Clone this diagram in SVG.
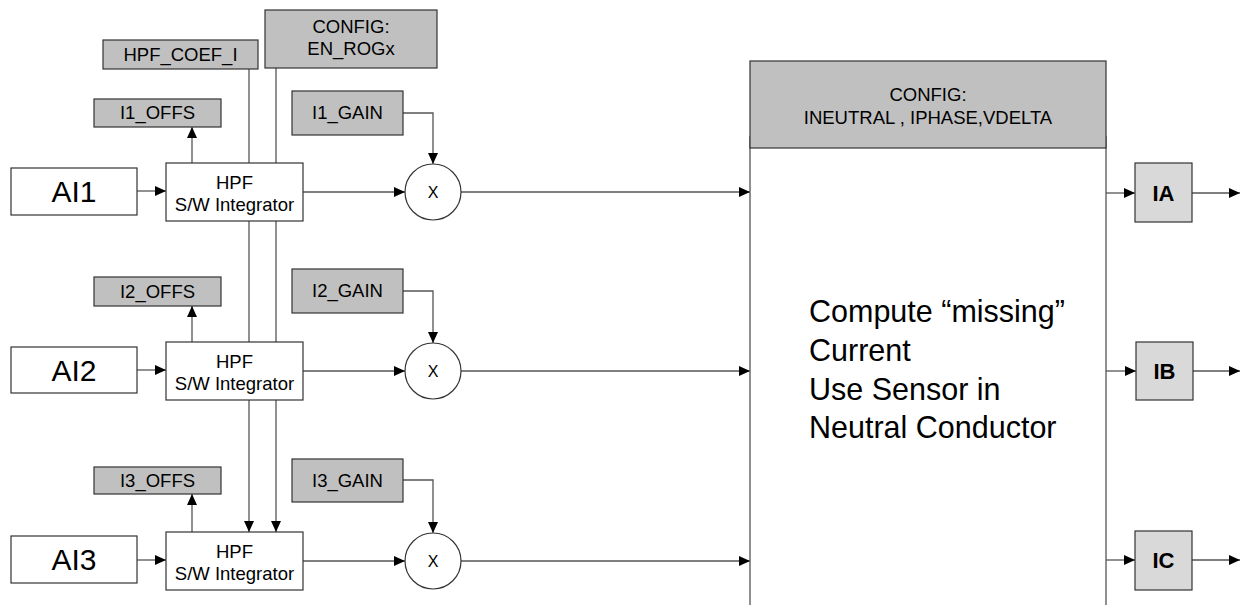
<svg xmlns="http://www.w3.org/2000/svg" width="1243" height="605" viewBox="0 0 1243 605">
<style>
text{font-family:"Liberation Sans",Arial,sans-serif;fill:#000;text-anchor:middle}
.g{fill:#c0c0c0;stroke:#333;stroke-width:1.2}
.w{fill:#fff;stroke:#333;stroke-width:1.2}
.o{fill:#d9d9d9;stroke:#333;stroke-width:1.2}
.c{fill:none;stroke:#555;stroke-width:1.3}
.s{font-size:18.5px}
.big{font-size:30px}
.x{font-size:16px}
.b{font-size:22px;font-weight:bold}
.t{font-size:30.5px;text-anchor:start}
</style>
<defs>
<marker id="ah" markerWidth="11" markerHeight="10" refX="11" refY="5" orient="auto" markerUnits="userSpaceOnUse"><path d="M0,0 L11,5 L0,10 z" fill="#000"/></marker>
</defs>
<rect width="1243" height="605" fill="#fff"/>
<g id="connectors">
<path class="c" d="M249,69 V532" marker-end="url(#ah)"/>
<path class="c" d="M276,68 V532" marker-end="url(#ah)"/>
<path class="c" d="M137,191 H166" marker-end="url(#ah)"/>
<path class="c" d="M137,370 H166" marker-end="url(#ah)"/>
<path class="c" d="M137,560 H166" marker-end="url(#ah)"/>
<path class="c" d="M192,163 V127" marker-end="url(#ah)"/>
<path class="c" d="M192,342 V306" marker-end="url(#ah)"/>
<path class="c" d="M192,532 V494" marker-end="url(#ah)"/>
<path class="c" d="M303,192 H405" marker-end="url(#ah)"/>
<path class="c" d="M303,371 H405" marker-end="url(#ah)"/>
<path class="c" d="M303,561 H405" marker-end="url(#ah)"/>
<path class="c" d="M403,113 H433 V164" marker-end="url(#ah)"/>
<path class="c" d="M403,291 H433 V343" marker-end="url(#ah)"/>
<path class="c" d="M403,480 H433 V533" marker-end="url(#ah)"/>
<path class="c" d="M461,192 H750" marker-end="url(#ah)"/>
<path class="c" d="M461,371 H750" marker-end="url(#ah)"/>
<path class="c" d="M461,561 H750" marker-end="url(#ah)"/>
<path class="c" d="M1106,193 H1135" marker-end="url(#ah)"/>
<path class="c" d="M1106,371 H1136" marker-end="url(#ah)"/>
<path class="c" d="M1106,560 H1135" marker-end="url(#ah)"/>
<path class="c" d="M1192,193 H1240" marker-end="url(#ah)"/>
<path class="c" d="M1193,371 H1240" marker-end="url(#ah)"/>
<path class="c" d="M1192,560 H1240" marker-end="url(#ah)"/>
</g>
<g id="hpf_coef"><rect class="g" x="103" y="40" width="155" height="29"/><text class="s" x="180.5" y="61">HPF_COEF_I</text></g>
<g id="config_rog"><rect class="g" x="265" y="10" width="172" height="58"/><text class="s" x="351" y="33">CONFIG:</text><text class="s" x="351" y="55">EN_ROGx</text></g>
<g id="i1_offs"><rect class="g" x="94" y="99" width="127" height="28"/><text class="s" x="157.5" y="119">I1_OFFS</text></g>
<g id="i2_offs"><rect class="g" x="94" y="277" width="127" height="29"/><text class="s" x="157.5" y="298">I2_OFFS</text></g>
<g id="i3_offs"><rect class="g" x="94" y="467" width="127" height="27"/><text class="s" x="157.5" y="487">I3_OFFS</text></g>
<g id="i1_gain"><rect class="g" x="292" y="91" width="111" height="44"/><text class="s" x="347.5" y="119">I1_GAIN</text></g>
<g id="i2_gain"><rect class="g" x="292" y="269" width="111" height="44"/><text class="s" x="347.5" y="297">I2_GAIN</text></g>
<g id="i3_gain"><rect class="g" x="292" y="459" width="111" height="43"/><text class="s" x="347.5" y="487">I3_GAIN</text></g>
<g id="ai1"><rect class="w" x="11" y="168" width="126" height="47"/><text class="big" x="74" y="202">AI1</text></g>
<g id="ai2"><rect class="w" x="11" y="347" width="126" height="46"/><text class="big" x="74" y="381">AI2</text></g>
<g id="ai3"><rect class="w" x="11" y="536" width="126" height="47"/><text class="big" x="74" y="570">AI3</text></g>
<g id="hpf1"><rect class="w" x="166" y="163" width="137" height="58"/><text class="s" x="234.5" y="189">HPF</text><text class="s" x="234.5" y="211">S/W Integrator</text></g>
<g id="hpf2"><rect class="w" x="166" y="342" width="137" height="58"/><text class="s" x="234.5" y="368">HPF</text><text class="s" x="234.5" y="390">S/W Integrator</text></g>
<g id="hpf3"><rect class="w" x="166" y="532" width="137" height="58"/><text class="s" x="234.5" y="558">HPF</text><text class="s" x="234.5" y="580">S/W Integrator</text></g>
<g id="mul1"><circle class="w" cx="433" cy="192" r="28"/><text class="x" x="433" y="198">X</text></g>
<g id="mul2"><circle class="w" cx="433" cy="371" r="28"/><text class="x" x="433" y="377">X</text></g>
<g id="mul3"><circle class="w" cx="433" cy="561" r="28"/><text class="x" x="433" y="567">X</text></g>
<g id="compute">
<rect x="750" y="137" width="356" height="480" fill="#fff" stroke="#555" stroke-width="1.3"/>
<rect class="g" x="750" y="61" width="356" height="87"/>
<text class="s" x="928" y="101">CONFIG:</text>
<text class="s" x="928" y="124">INEUTRAL , IPHASE,VDELTA</text>
<text class="t" x="809" y="322">Compute “missing”</text>
<text class="t" x="809" y="361">Current</text>
<text class="t" x="809" y="400">Use Sensor in</text>
<text class="t" x="809" y="438">Neutral Conductor</text>
</g>
<g id="ia"><rect class="o" x="1135" y="163" width="57" height="59"/><text class="b" x="1163.5" y="201">IA</text></g>
<g id="ib"><rect class="o" x="1136" y="342" width="57" height="58"/><text class="b" x="1164.5" y="379">IB</text></g>
<g id="ic"><rect class="o" x="1135" y="531" width="57" height="59"/><text class="b" x="1163.5" y="568">IC</text></g>
</svg>
